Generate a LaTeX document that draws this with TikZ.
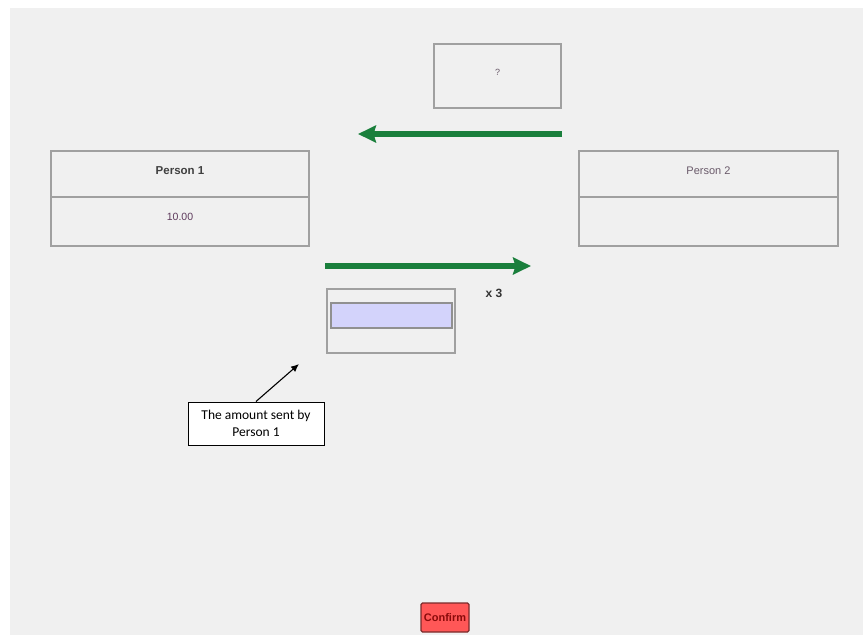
\documentclass[tikz,border=0pt]{standalone}
\usepackage{fontspec}
\setmainfont{Liberation Sans}
\newfontfamily\calloutfont{Carlito}
\usetikzlibrary{arrows.meta}

\definecolor{panelgrey}{HTML}{F0F0F0}
\definecolor{framegrey}{HTML}{A0A0A0}
\definecolor{flowgreen}{HTML}{1A7F3C}
\definecolor{valuepurple}{HTML}{5E3A5C}
\definecolor{labelgrey}{HTML}{6A5A6A}
\definecolor{fieldblue}{HTML}{D3D3FB}
\definecolor{buttonred}{HTML}{FF5757}
\definecolor{buttonedge}{HTML}{7A2A2A}
\definecolor{buttontext}{HTML}{8A0A0A}

\tikzset{
  panelbox/.style={draw=framegrey, line width=1.4pt, fill=panelgrey,
    rectangle, inner sep=0pt, font=\fontsize{11}{13}\selectfont},
  flowarrow/.style={draw=flowgreen, line width=5.5pt,
    -{Stealth[length=18pt, width=17pt, inset=2.5pt]}},
  calloutbox/.style={draw=black, line width=1pt, fill=white, rectangle,
    align=center, inner sep=0pt, font=\calloutfont\fontsize{13.5}{17}\selectfont},
  pointer/.style={draw=black, line width=1.1pt, -{Latex[length=8pt, width=7pt]}},
}

\begin{document}
\begin{tikzpicture}[x=1pt, y=-1pt]
  \useasboundingbox (0,0) rectangle (863,635);
  \fill[white] (0,0) rectangle (863,635);
  \fill[panelgrey] (10,8) rectangle (863,635);

  % amount returned by Person 2
  \node[panelbox, minimum width=127pt, minimum height=64pt, text depth=8pt,
        text=labelgrey, font=\fontsize{9}{10}\selectfont] (back) at (497.5,76) {?};

  % Person 1 panel
  \node[panelbox, minimum width=258pt, minimum height=46pt, text depth=6pt,
        text=black!75, font=\bfseries\fontsize{11.5}{13}\selectfont] (p1head) at (180,174) {Person 1};
  \node[panelbox, minimum width=258pt, minimum height=49pt, text depth=9pt,
        text=valuepurple, font=\fontsize{10.5}{13}\selectfont] (p1value) at (180,221.5) {10.00};

  % Person 2 panel
  \node[panelbox, minimum width=259pt, minimum height=46pt, text depth=6pt,
        text=labelgrey, font=\fontsize{11}{13}\selectfont] (p2head) at (708.5,174) {Person 2};
  \node[panelbox, minimum width=259pt, minimum height=49pt] (p2value) at (708.5,221.5) {};

  % transfer arrows
  \coordinate (backstart) at (562,134);
  \coordinate (backend) at (358,134);
  \draw[flowarrow] (backstart) -- (backend);
  \coordinate (sendstart) at (325,266);
  \coordinate (sendend) at (531,266);
  \draw[flowarrow] (sendstart) -- (sendend);

  \node[font=\bfseries\fontsize{12}{13}\selectfont, text=black!80] (factor) at (494,293) {x 3};

  % amount entry field
  \node[panelbox, minimum width=128pt, minimum height=64pt] (entry) at (391,321) {};
  \node[draw=framegrey!90!black, line width=1.2pt, fill=fieldblue, rectangle,
        minimum width=121pt, minimum height=25pt, inner sep=0pt] (field) at (391.5,315.5) {};

  % explanatory callout
  \node[calloutbox, minimum width=136pt, minimum height=43pt] (callout) at (256,423.5)
    {The amount sent by\\Person 1};
  \coordinate (pointtip) at (299,364);
  \draw[pointer] (callout.north) -- (pointtip);

  % confirm button
  \node[draw=buttonedge, line width=1.2pt, fill=buttonred, rounded corners=1.5pt,
        minimum width=48pt, minimum height=29pt, inner sep=0pt, text=buttontext,
        font=\bfseries\fontsize{11}{12}\selectfont] (confirm) at (445,617.5) {Confirm};
\end{tikzpicture}
\end{document}
